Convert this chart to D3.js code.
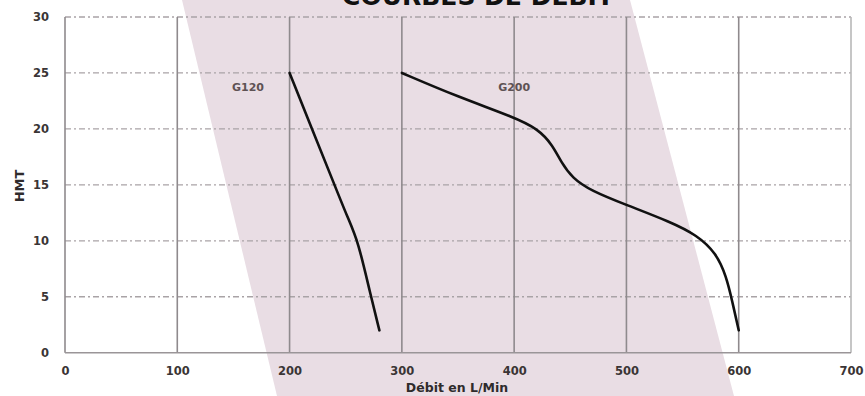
<!DOCTYPE html>
<html><head><meta charset="utf-8">
<script src="https://cdn.jsdelivr.net/npm/d3@7"></script>
<style>body{margin:0;background:#fff;}svg{display:block;}</style>
</head><body>
<svg id="chart" width="865" height="396"></svg>
<script>
const xTicks = [0,100,200,300,400,500,600,700];
const yTicks = [0,5,10,15,20,25,30];
const g120 = [[200,25],[220,20],[240,15],[252,12],[261,10],[272,5.2],[280,2]];
const g200 = [[300,25],[349,22.9],[401,21.0],[421,20.0],[434,18.6],[442,17.0],[452,15.6],[468,14.5],[500,13.2],[539,11.7],[563,10.5],[580,8.9],[589,6.8],[594,4.7],[600,2]];
const seriesNames = ["G120","G200"];

const svg = d3.select("#chart");
const W = 865, H = 396;
const x = d3.scaleLinear().domain([0,700]).range([65,851]);
const y = d3.scaleLinear().domain([0,30]).range([352.7,17]);

// pink band
svg.append("polygon").attr("points",[[182,0],[630,0],[734,H],[277,H]].map(p=>p.join(",")).join(" ")).attr("fill","#e9dde4");

// horizontal grid (dash-dot)
svg.append("g").selectAll("line").data(yTicks.filter(v=>v>0)).join("line")
  .attr("x1",x(0)).attr("x2",x(700)).attr("y1",d=>y(d)).attr("y2",d=>y(d))
  .attr("stroke","#a9a3a6").attr("stroke-width",1.3).attr("stroke-dasharray","6,3,2,3");
// vertical grid
svg.append("g").selectAll("line").data(xTicks).join("line")
  .attr("x1",d=>x(d)).attr("x2",d=>x(d)).attr("y1",y(30)).attr("y2",y(0))
  .attr("stroke",d=>d===700?"#b8b8b8":"#8f8a8d").attr("stroke-width",1.6);
// bottom axis line
svg.append("line").attr("x1",x(0)).attr("x2",x(700)).attr("y1",y(0)).attr("y2",y(0)).attr("stroke","#9a9598").attr("stroke-width",1.6);

const tickFont = t => t.attr("font-family","DejaVu Sans").attr("font-size",11.5).attr("font-weight","bold").attr("fill","#3a3535");
const xAxis = svg.append("g").attr("transform",`translate(0,${y(0)})`)
  .call(d3.axisBottom(x).tickValues(xTicks).tickSize(0).tickPadding(14).tickFormat(d3.format("d")));
xAxis.select(".domain").remove();
tickFont(xAxis.selectAll("text"));

const yAxis = svg.append("g").attr("transform",`translate(${x(0)},0)`)
  .call(d3.axisLeft(y).tickValues(yTicks).tickSize(0).tickPadding(16).tickFormat(d3.format("d")));
yAxis.select(".domain").remove();
tickFont(yAxis.selectAll("text"));

// titles
svg.append("text").attr("x",457).attr("y",392).attr("text-anchor","middle")
  .attr("font-family","DejaVu Sans").attr("font-size",12.5).attr("font-weight","bold").attr("fill","#2f2b2c").text("Débit en L/Min");
svg.append("text").attr("transform","translate(24,186) rotate(-90)").attr("text-anchor","middle")
  .attr("font-family","DejaVu Sans").attr("font-size",13).attr("font-weight","bold").attr("fill","#2f2b2c").text("HMT");
svg.append("text").attr("x",478).attr("y",5).attr("text-anchor","middle")
  .attr("font-family","DejaVu Sans").attr("font-size",25).attr("font-weight","bold").attr("fill","#111").text("COURBES DE DEBIT");

// curves
const line = d3.line().x(d=>x(d[0])).y(d=>y(d[1])).curve(d3.curveBasis);
[g120,g200].forEach(s=>{
  svg.append("path").attr("d",line(s)).attr("fill","none").attr("stroke","#111").attr("stroke-width",2.6).attr("stroke-linecap","round");
});
// series labels
svg.append("g").selectAll("text").data(seriesNames).join("text")
  .attr("x",(d,i)=>x(i===0?163:400)).attr("y",y(23.4)).attr("text-anchor","middle")
  .attr("font-family","DejaVu Sans").attr("font-size",11).attr("font-weight","bold").attr("fill","#5e5254").text(d=>d);
</script>
</body></html>
